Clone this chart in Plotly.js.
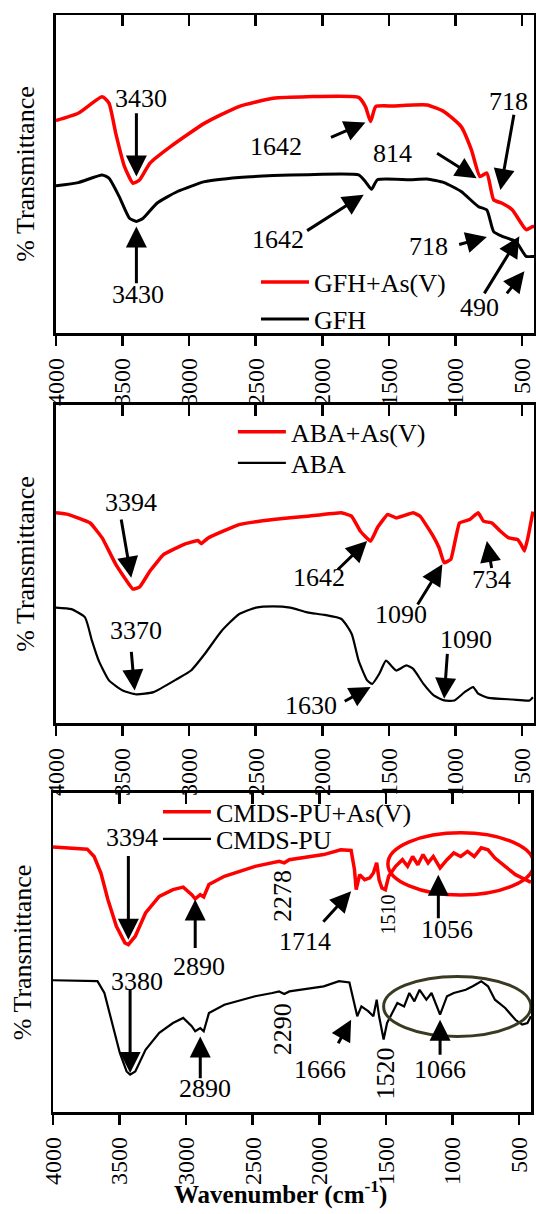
<!DOCTYPE html>
<html><head><meta charset="utf-8">
<script src="https://cdn.plot.ly/plotly-3.0.1.min.js"></script>
<style>html,body{margin:0;padding:0;background:#fff}#chart{width:536px;height:1214px}</style>
</head><body><div id="chart"></div>
<script>
// ---------- data ----------
const tickVals = [4000, 3500, 3000, 2500, 2000, 1500, 1000, 500];
const tickText = ['4000', '3500', '3000', '2500', '2000', '1500', '1000', '500'];

const gfhAsWn = [4000,3833,3653,3602,3551,3486,3422,3371,3294,3140,2883,2626,2369,2113,1727,1676,1637,1599,1471,1214,1085,957,880,816,764,713,649,572,469,418,410];
const gfhAsT  = [66.8,69.1,74.3,72.3,62.8,52.4,47.1,48.2,53.4,58.6,66.0,71.2,73.8,74.3,74.1,71.2,66.5,71.2,71.4,71.7,69.6,64.9,57.6,49.2,50.3,41.9,40.8,38.7,32.5,33.5,33.0];
const gfhWn = [4000,3833,3653,3602,3525,3448,3396,3345,3242,3088,2883,2626,2369,2113,1727,1676,1630,1586,1342,1214,1085,957,829,764,713,649,546,469,418,410];
const gfhT  = [46.3,47.3,49.7,48.7,42.9,36.1,35.1,36.1,40.8,44.5,47.6,48.9,49.5,49.8,49.7,47.6,45.2,48.2,48.2,48.4,47.3,44.5,39.8,38.7,31.9,30.4,28.8,24.1,24.1,24.1];

const abaAsWn = [4000,3910,3743,3653,3551,3422,3371,3294,3191,3037,2935,2909,2857,2626,2369,2113,1856,1779,1714,1637,1586,1509,1445,1317,1265,1175,1123,1085,1034,970,893,829,790,726,662,598,534,508,482,456,418];
const abaAsT  = [66.1,65.6,62.9,58.2,49.9,42.1,42.8,47.8,53.0,56.2,57.4,56.4,58.2,62.4,64.0,65.0,66.1,65.0,60.3,57.2,61.4,65.6,64.5,66.1,65.0,59.3,55.1,50.4,51.5,62.9,64.0,66.1,63.5,62.9,60.3,58.2,57.7,56.2,54.1,58.2,66.5];
const abaWn = [4000,3884,3782,3730,3679,3602,3499,3396,3268,3088,2986,2883,2755,2626,2498,2369,2241,2113,1985,1856,1779,1727,1663,1625,1573,1522,1484,1445,1368,1317,1240,1163,1085,1008,931,867,829,752,572,443,418];
const abaT  = [36.3,35.8,33.2,25.9,19.6,13.4,10.2,9.0,9.7,13.9,16.5,21.7,29.0,34.2,36.3,36.7,36.3,34.8,34.0,32.7,28.0,19.6,13.4,12.3,15.4,19.6,18.1,16.5,18.1,17.0,12.3,8.7,7.1,7.1,9.7,11.3,9.2,7.9,7.4,7.1,8.1];

const cmdsAsWn = [4000,3743,3691,3640,3588,3524,3460,3434,3382,3305,3202,3099,3022,2984,2958,2932,2894,2868,2829,2713,2482,2302,2263,2225,1967,1839,1761,1736,1723,1697,1659,1620,1594,1569,1551,1530,1504,1479,1427,1376,1337,1299,1260,1221,1183,1144,1093,1041,990,938,887,836,784,733,681,604,527,450,410];
const cmdsAsT  = [83.1,82.4,80.1,74.9,66.6,58.2,53.0,52.5,55.1,62.4,67.6,69.7,70.5,69.2,68.1,66.8,68.1,67.4,71.3,73.9,77.0,78.6,78.1,79.1,80.7,82.2,82.0,76.0,69.7,74.4,72.8,73.4,74.9,78.1,72.8,70.2,69.7,73.9,77.0,79.1,77.0,80.1,77.5,80.7,78.1,80.1,76.5,79.1,81.2,80.1,81.7,80.1,82.8,82.2,79.6,77.0,74.4,72.8,72.0];
const cmdsWn = [4000,3666,3614,3563,3498,3447,3421,3382,3305,3202,3099,3022,2984,2958,2932,2894,2868,2829,2713,2482,2353,2302,2263,2225,1967,1852,1774,1736,1715,1684,1633,1594,1569,1551,1517,1491,1453,1414,1363,1324,1286,1247,1196,1157,1093,1041,990,938,900,848,784,733,681,604,527,476,437,411];
const cmdsT  = [41.3,41.0,37.3,28.9,18.5,12.7,11.7,12.7,19.5,24.8,27.9,29.5,27.9,26.9,25.3,26.3,25.3,31.0,33.6,36.3,37.3,37.8,37.0,37.8,39.4,41.0,40.6,34.2,30.0,33.1,31.6,30.0,35.2,30.0,22.7,27.9,31.0,34.2,33.1,37.3,34.7,38.3,35.2,37.3,30.5,36.3,37.3,37.8,38.3,39.4,41.0,39.4,35.2,32.6,28.9,27.4,27.9,30.0];

// ---------- layout helpers ----------
const FONT = 'Liberation Serif';
const RED = '#ff0000';
const X_RANGE = [4000, 410];

function label(sfx, x, y, text, extra) {
  return Object.assign({xref: 'x' + sfx, yref: 'y' + sfx, x: x, y: y, text: text, showarrow: false,
    font: {family: FONT, size: 26, color: '#000'}}, extra || {});
}
function arrow(sfx, x0, y0, x1, y1) {
  return {xref: 'x' + sfx, yref: 'y' + sfx, axref: 'x' + sfx, ayref: 'y' + sfx,
    x: x1, y: y1, ax: x0, ay: y0, text: '', showarrow: true,
    arrowhead: 2, arrowsize: 1.4, arrowwidth: 3, arrowcolor: '#000', standoff: 0, startstandoff: 0};
}

function bottomAxis(domain, anchor) {
  return {domain: domain, anchor: anchor, range: X_RANGE, tickvals: tickVals, ticktext: tickText,
    tickangle: -90, ticks: 'outside', ticklen: 10, tickwidth: 2.5, tickcolor: '#000',
    ticklabelstandoff: 3,
    showline: true, linewidth: 2.5, linecolor: '#000', mirror: true, showgrid: false, zeroline: false,
    tickfont: {family: FONT, size: 24, color: '#000'}};
}
function topAxis(over, anchor) {
  return {overlaying: over, anchor: anchor, side: 'top', range: X_RANGE, tickvals: tickVals,
    ticks: 'inside', ticklen: 11, tickwidth: 2.5, tickcolor: '#000', showticklabels: false,
    showline: false, showgrid: false, zeroline: false};
}
function leftAxis(domain, anchor) {
  return {domain: domain, anchor: anchor, range: [0, 100], showticklabels: false, ticks: '',
    showline: true, linewidth: 2.5, linecolor: '#000', mirror: true, showgrid: false, zeroline: false,
    title: {text: '% Transmittance', font: {family: FONT, size: 26, color: '#000'}, standoff: 12}};
}
function legendBox(x, y) {
  return {x: x, y: y, xanchor: 'left', yanchor: 'middle', bgcolor: 'rgba(0,0,0,0)', borderwidth: 0,
    itemwidth: 48, font: {family: FONT, size: 26, color: '#000'}};
}

const traces = [
  {x: gfhAsWn, y: gfhAsT, name: 'GFH+As(V)', xaxis: 'x', yaxis: 'y', legend: 'legend',
   mode: 'lines', line: {color: RED, width: 3.5, shape: 'spline', smoothing: 0.5}},
  {x: gfhWn, y: gfhT, name: 'GFH', xaxis: 'x', yaxis: 'y', legend: 'legend2',
   mode: 'lines', line: {color: '#000', width: 3, shape: 'spline', smoothing: 0.5}},
  {x: abaAsWn, y: abaAsT, name: 'ABA+As(V)', xaxis: 'x2', yaxis: 'y2', legend: 'legend3',
   mode: 'lines', line: {color: RED, width: 3.5, shape: 'spline', smoothing: 0.3}},
  {x: abaWn, y: abaT, name: 'ABA', xaxis: 'x2', yaxis: 'y2', legend: 'legend4',
   mode: 'lines', line: {color: '#000', width: 2.2, shape: 'spline', smoothing: 0.5}},
  {x: cmdsAsWn, y: cmdsAsT, name: 'CMDS-PU+As(V)', xaxis: 'x3', yaxis: 'y3', legend: 'legend5',
   mode: 'lines', line: {color: RED, width: 3.5}},
  {x: cmdsWn, y: cmdsT, name: 'CMDS-PU', xaxis: 'x3', yaxis: 'y3', legend: 'legend6',
   mode: 'lines', line: {color: '#000', width: 2.2}},
  // empty helpers so the mirrored top tick axes are drawn
  {x: [], y: [], xaxis: 'x4', yaxis: 'y', showlegend: false, hoverinfo: 'skip', mode: 'lines'},
  {x: [], y: [], xaxis: 'x5', yaxis: 'y2', showlegend: false, hoverinfo: 'skip', mode: 'lines'},
  {x: [], y: [], xaxis: 'x6', yaxis: 'y3', showlegend: false, hoverinfo: 'skip', mode: 'lines'}
];

const annotations = [
  // panel 1
  label('', 3358, 73.8, '3430'), arrow('', 3396, 69.6, 3396, 49.2),
  label('', 3384, 12.0, '3430'), arrow('', 3396, 15.2, 3396, 33.5),
  label('', 2344, 58.6, '1642'), arrow('', 1946, 61.3, 1676, 66.2),
  label('', 2331, 29.3, '1642'), arrow('', 2125, 31.9, 1689, 43.5),
  label('', 1470, 56.5, '814'), arrow('', 1149, 56.8, 841, 48.7),
  label('', 602, 72.8, '718'), arrow('', 559, 69.1, 662, 45.0),
  label('', 1201, 27.2, '718'), arrow('', 983, 27.7, 764, 30.2),
  label('', 816, 7.9, '490'), arrow('', 790, 12.0, 520, 30.4), arrow('', 623, 12.0, 482, 19.4),
  // panel 2
  label('2', 3435, 69.2, '3394'), arrow('2', 3512, 64.5, 3435, 45.7),
  label('2', 3397, 29.0, '3370'), arrow('2', 3435, 22.8, 3409, 10.2),
  label('2', 2023, 45.7, '1642'), arrow('2', 1894, 47.8, 1663, 57.2),
  label('2', 2087, 5.5, '1630'), arrow('2', 1843, 6.6, 1637, 11.3),
  label('2', 1406, 34.2, '1090'), arrow('2', 1291, 36.8, 1098, 49.9),
  label('2', 919, 26.4, '1090'), arrow('2', 1060, 22.2, 1085, 7.6),
  label('2', 726, 45.1, '734'), arrow('2', 726, 48.3, 764, 57.2),
  // panel 3
  label('3', 3408, 85.9, '3394'), arrow('3', 3434, 80.7, 3434, 54.0),
  label('3', 3370, 41.0, '3380'), arrow('3', 3421, 38.9, 3421, 12.2),
  label('3', 2907, 45.7, '2890'), arrow('3', 2932, 50.9, 2932, 66.6),
  label('3', 2855, 7.5, '2890'), arrow('3', 2894, 10.1, 2894, 23.7),
  label('3', 2276, 67.6, '2278', {textangle: -90}),
  label('3', 2276, 25.8, '2290', {textangle: -90}),
  label('3', 2109, 53.5, '1714'), arrow('3', 1980, 59.2, 1761, 69.2),
  label('3', 1993, 13.3, '1666'), arrow('3', 1864, 21.1, 1761, 28.9),
  label('3', 1491, 61.9, '1510', {textangle: -90, font: {family: FONT, size: 20, color: '#000'}}),
  label('3', 1504, 12.2, '1520', {textangle: -90}),
  label('3', 1041, 57.2, '1056'), arrow('3', 1106, 60.3, 1106, 74.4),
  label('3', 1093, 13.3, '1066'), arrow('3', 1093, 17.5, 1093, 28.9),
  // x-axis title
  {xref: 'paper', yref: 'paper', x: 0.472, y: -0.0905, yanchor: 'bottom', text: '<b>Wavenumber (cm<sup>-1</sup>)</b>',
   showarrow: false, font: {family: FONT, size: 25, color: '#000'}}
];

const shapes = [
  {type: 'circle', xref: 'x3', yref: 'y3', x0: 1485, x1: 389, y0: 68.0, y1: 87.5,
   line: {color: RED, width: 3.5}},
  {type: 'circle', xref: 'x3', yref: 'y3', x0: 1517, x1: 411, y0: 23.7, y1: 42.5,
   line: {color: '#3a3a22', width: 3}}
];

const layout = {
  width: 536, height: 1214,
  margin: {l: 53, r: 2, t: 15, b: 102},
  paper_bgcolor: '#fff', plot_bgcolor: '#fff',
  font: {family: FONT, color: '#000'},
  xaxis: bottomAxis([0.0062, 1], 'y'),
  yaxis: leftAxis([0.7101, 1], 'x'),
  xaxis2: bottomAxis([0.0062, 1], 'y2'),
  yaxis2: leftAxis([0.3546, 0.6445], 'x2'),
  xaxis3: bottomAxis([0, 0.9938], 'y3'),
  yaxis3: leftAxis([0, 0.2908], 'x3'),
  xaxis4: topAxis('x', 'y'),
  xaxis5: topAxis('x2', 'y2'),
  xaxis6: topAxis('x3', 'y3'),
  showlegend: true,
  legend: legendBox(0.422, 0.7566),
  legend2: legendBox(0.422, 0.7229),
  legend3: legendBox(0.374, 0.6199),
  legend4: legendBox(0.374, 0.5916),
  legend5: legendBox(0.2183, 0.2735),
  legend6: legendBox(0.2183, 0.2489),
  annotations: annotations,
  shapes: shapes
};

Plotly.newPlot('chart', traces, layout, {staticPlot: true, displayModeBar: false});
</script></body></html>
